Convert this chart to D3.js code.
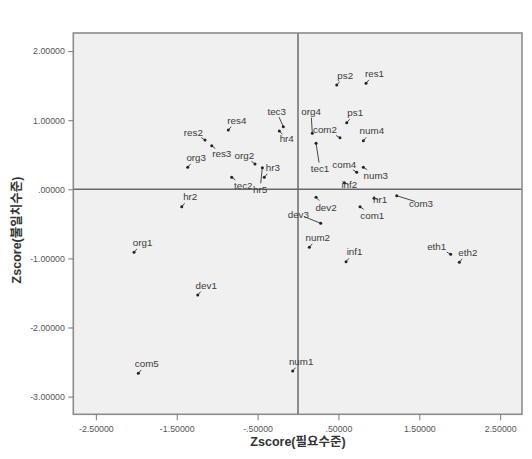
<!DOCTYPE html>
<html><head><meta charset="utf-8">
<script src="https://cdn.jsdelivr.net/npm/d3@7"></script>
<style>
html,body{margin:0;padding:0;background:#fff;}
svg{display:block;}
text{font-family:Arial,"Liberation Sans","Noto Sans CJK KR",sans-serif;}
</style></head>
<body>
<svg id="chart" width="532" height="459"></svg>
<script>
// ---- data ----
const names = ["tec3","hr4","res4","res2","res3","org3","org2","hr5","hr3","tec2",
  "ps2","res1","org4","com2","ps1","num4","tec1","com4","num3","inf2",
  "dev2","dev3","hr1","com3","com1","num2","inf1","eth1","eth2","num1",
  "hr2","org1","dev1","com5"];
const needZ = [-0.182,-0.231,-0.862,-1.150,-1.067,-1.364,-0.532,-0.441,-0.417,-0.820,
  0.479,0.841,0.177,0.519,0.602,0.808,0.223,0.726,0.808,0.573,
  0.223,0.281,0.940,1.221,0.767,0.140,0.594,1.888,1.995,-0.066,
  -1.438,-2.028,-1.240,-1.975];
const gapZ = [0.906,0.844,0.858,0.713,0.631,0.318,0.366,0.313,0.174,0.174,
  1.509,1.534,0.810,0.747,0.964,0.703,0.666,0.246,0.318,0.096,
  -0.116,-0.492,-0.130,-0.093,-0.252,-0.839,-1.048,-0.941,-1.056,-2.630,
  -0.252,-0.912,-1.530,-2.663];
const xTicks = [-2.5,-1.5,-0.5,0.5,1.5,2.5];
const yTicks = [2,1,0,-1,-2,-3];
const xTitle = "Zscore(필요수준)";
const yTitle = "Zscore(불일치수준)";

// ---- label placement (layout only, pixel offsets of label centre from the point) ----
const defaultOffset = [8.5,-10];
const labelOffset = {
  tec3:[-6.6,-15,1], hr4:[7.4,8], res2:[-11.7,-7.7], res3:[10,7.6], org2:[-10.7,-8.3],
  hr5:[-2.3,21.6,1], tec2:[11.6,8.7], org4:[-1.3,-21.6,1], com2:[-15,-8.4],
  tec1:[4,25.7,1], com4:[-12.4,-8.3], num3:[12.4,7.7], inf2:[5,2.3],
  dev2:[10,10.4], dev3:[-22.4,-9,1], hr1:[6,1.7], com3:[24.3,7.6,1], com1:[12.3,9],
  eth1:[-14,-8.3]
};

// ---- layout ----
const svg = d3.select("#chart");
const L = 73.3, R = 522, T = 33, B = 414.3;
const x = d3.scaleLinear().domain([-2.779, 2.770]).range([L, R]);
const y = d3.scaleLinear().domain([2.262, -3.256]).range([T, B]);

const fmt = v => {
  let s = Math.abs(v).toFixed(5);
  if (Math.abs(v) < 1) s = s.replace(/^0/, "");
  return (v < 0 ? "-" : "") + s;
};

svg.append("rect").attr("x", L).attr("y", T).attr("width", R - L).attr("height", B - T)
  .attr("fill", "#f0f0f0");

// zero reference lines
svg.append("line").attr("x1", x(0)).attr("x2", x(0)).attr("y1", T).attr("y2", B)
  .attr("stroke", "#6a6a6a").attr("stroke-width", 1.5);
svg.append("line").attr("x1", L).attr("x2", R).attr("y1", y(0)).attr("y2", y(0))
  .attr("stroke", "#6a6a6a").attr("stroke-width", 1.5);

// frame
svg.append("rect").attr("x", L).attr("y", T).attr("width", R - L).attr("height", B - T)
  .attr("fill", "none").attr("stroke", "#8c8c8c").attr("stroke-width", 1.6);

// axes
const xAxis = d3.axisBottom(x).tickValues(xTicks).tickFormat(fmt).tickSize(6).tickSizeOuter(0);
const gx = svg.append("g").attr("transform", `translate(0,${B})`).call(xAxis);
gx.select(".domain").remove();
gx.selectAll(".tick line").attr("stroke", "#777");
gx.selectAll(".tick text").attr("fill", "#555").attr("font-size", 8.8).attr("dy", "1.0em");

const yAxis = d3.axisLeft(y).tickValues(yTicks).tickFormat(fmt).tickSize(5).tickSizeOuter(0);
const gy = svg.append("g").attr("transform", `translate(${L},0)`).call(yAxis);
gy.select(".domain").remove();
gy.selectAll(".tick line").attr("stroke", "#777");
gy.selectAll(".tick text").attr("fill", "#555").attr("font-size", 8.8).attr("dx", "-0.05em");

// titles
svg.append("text").attr("x", x(0)).attr("y", 442).attr("text-anchor", "middle")
  .attr("dominant-baseline", "central").attr("font-size", 12.5).attr("font-weight", "bold")
  .attr("fill", "#333").text(xTitle);
svg.append("text").attr("transform", `translate(17,230) rotate(-90)`).attr("text-anchor", "middle")
  .attr("dominant-baseline", "central").attr("font-size", 12.5).attr("font-weight", "bold")
  .attr("fill", "#333").text(yTitle);

// points
const pts = names.map((n, i) => ({name: n, vx: needZ[i], vy: gapZ[i]}));
const g = svg.append("g");
pts.forEach(p => {
  const px = x(p.vx), py = y(p.vy);
  const o = labelOffset[p.name] || defaultOffset;
  const lx = px + o[0], ly = py + o[1];
  const dx = o[0], dy = o[1];
  const len = Math.hypot(dx, dy);
  let ex, ey;
  if (o[2]) { // long leader to label
    const stop = Math.min(len - 6, len * 0.75);
    ex = px + dx / len * stop; ey = py + dy / len * stop;
  } else {
    ex = px + dx / len * 4.5; ey = py + dy / len * 4.5;
  }
  g.append("line").attr("x1", px).attr("y1", py).attr("x2", ex).attr("y2", ey)
    .attr("stroke", "#333").attr("stroke-width", 0.9);
  g.append("circle").attr("cx", px).attr("cy", py).attr("r", 1.5).attr("fill", "#222");
  g.append("text").attr("x", lx).attr("y", ly).attr("text-anchor", "middle")
    .attr("dominant-baseline", "central").attr("font-size", 9.8).attr("fill", "#3a3a3a")
    .text(p.name);
});
</script>
</body></html>
